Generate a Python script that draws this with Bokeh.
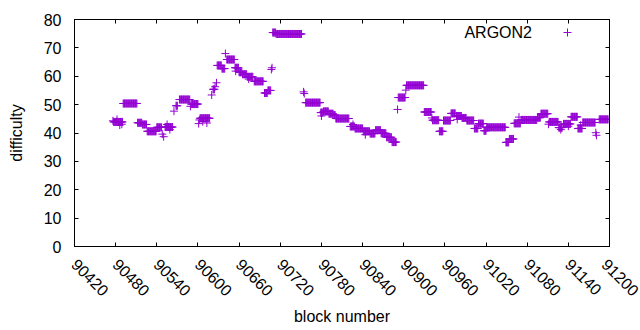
import math
from bokeh.plotting import figure
from bokeh.models import (LinearAxis, Range1d, FixedTicker, Label, Legend, LegendItem)
from bokeh.embed import file_html
from bokeh.resources import INLINE

run_start = [90476, 90477, 90482, 90486, 90489, 90491, 90512, 90519, 90526, 90540,
             90548, 90550, 90552, 90555, 90559, 90565, 90568, 90573, 90589, 90590,
             90601, 90602, 90603, 90607, 90613, 90620, 90622, 90625, 90627, 90628,
             90635, 90640, 90642, 90654, 90655, 90660, 90665, 90672, 90674, 90682,
             90697, 90702, 90707, 90708, 90709, 90714, 90754, 90755, 90757, 90779,
             90780, 90783, 90791, 90798, 90801, 90822, 90826, 90829, 90841, 90844,
             90851, 90859, 90867, 90875, 90883, 90891, 90892, 90903, 90904, 90930,
             90941, 90942, 90952, 90958, 90969, 90977, 90978, 90985, 90992, 91003,
             91009, 91017, 91021, 91049, 91054, 91061, 91068, 91071, 91095, 91100,
             91111, 91112, 91126, 91129, 91133, 91140, 91144, 91154, 91158, 91161,
             91180, 91181, 91185]
run_end = [90476, 90490, 90482, 90486, 90489, 90511, 90518, 90525, 90539, 90547,
           90548, 90550, 90563, 90555, 90559, 90565, 90570, 90588, 90589, 90600,
           90601, 90602, 90617, 90607, 90613, 90620, 90624, 90625, 90627, 90634,
           90639, 90640, 90653, 90659, 90655, 90664, 90671, 90680, 90674, 90695,
           90701, 90706, 90707, 90708, 90713, 90751, 90754, 90755, 90778, 90782,
           90780, 90790, 90797, 90800, 90820, 90828, 90826, 90840, 90850, 90844,
           90858, 90866, 90874, 90882, 90889, 90891, 90902, 90903, 90929, 90940,
           90941, 90951, 90957, 90968, 90975, 90984, 90978, 90991, 91002, 91008,
           91016, 91020, 91048, 91053, 91060, 91070, 91068, 91094, 91099, 91110,
           91111, 91125, 91131, 91129, 91143, 91140, 91153, 91160, 91158, 91179,
           91180, 91181, 91198]
run_value = [44.3, 43.9, 44.8, 42.8, 43.1, 50.4, 43.6, 43.0, 40.6, 42.0,
             39.6, 38.7, 42.1, 43.0, 41.2, 47.7, 49.6, 51.8, 49.4, 50.2,
             43.3, 44.6, 45.2, 44.0, 43.5, 53.4, 55.4, 56.3, 57.7, 63.8,
             62.7, 68.0, 65.9, 63.0, 61.8, 61.4, 60.7, 59.8, 59.0, 58.2,
             54.1, 55.0, 62.4, 63.0, 75.4, 74.9, 54.5, 53.9, 50.7, 47.2,
             46.0, 47.6, 46.8, 46.3, 45.1, 42.3, 43.0, 41.6, 40.6, 39.4,
             39.8, 41.0, 39.9, 38.5, 36.8, 48.3, 52.5, 55.1, 56.8, 47.4,
             45.3, 44.5, 40.6, 44.4, 46.9, 46.0, 44.8, 45.3, 44.4, 41.6,
             43.3, 40.8, 42.0, 36.7, 37.9, 43.4, 45.6, 44.6, 45.4, 46.8,
             43.1, 43.9, 41.9, 41.2, 43.2, 42.4, 45.7, 41.6, 42.8, 43.7,
             40.1, 39.2, 44.8]

x_ticks = [90420, 90480, 90540, 90600, 90660, 90720, 90780, 90840, 90900,
           90960, 91020, 91080, 91140, 91200]
y_ticks = [0, 10, 20, 30, 40, 50, 60, 70, 80]
series_name = "ARGON2"

blocks, diffs = [], []
for s, e, v in zip(run_start, run_end, run_value):
    for b in range(s, e + 1):
        blocks.append(b)
        diffs.append(v)

COLOR = "#9400D3"
FONT = "Liberation Sans"
FS = "16px"

p = figure(frame_width=535, frame_height=227,
           x_range=Range1d(x_ticks[0], x_ticks[-1]), y_range=Range1d(y_ticks[0], y_ticks[-1]),
           output_backend="svg", toolbar_location=None,
           min_border_left=74, min_border_right=31, min_border_top=19, min_border_bottom=84,
           x_axis_label="block number", y_axis_label="difficulty")
p.xgrid.visible = False
p.ygrid.visible = False
p.outline_line_color = "black"
p.background_fill_color = "white"
p.border_fill_color = "white"

for ax in (p.xaxis[0], p.yaxis[0]):
    ax.major_tick_in = 4
    ax.major_tick_out = 0
    ax.minor_tick_line_color = None
    ax.axis_line_color = "black"
    ax.major_tick_line_color = "black"
    ax.major_label_text_font = FONT
    ax.major_label_text_font_size = FS
    ax.major_label_text_color = "black"
    ax.axis_label_text_font = FONT
    ax.axis_label_text_font_size = FS
    ax.axis_label_text_font_style = "normal"
    ax.axis_label_text_color = "black"

p.xaxis[0].ticker = FixedTicker(ticks=x_ticks)
p.yaxis[0].ticker = FixedTicker(ticks=y_ticks)
p.xaxis[0].major_label_orientation = -math.pi / 4
p.xaxis[0].major_label_standoff = 15
p.xaxis[0].axis_label_standoff = 4
p.yaxis[0].major_label_standoff = 13
p.yaxis[0].axis_label_standoff = 16

# mirrored tick marks on top and right
top = LinearAxis(ticker=FixedTicker(ticks=x_ticks), major_tick_in=4, major_tick_out=0,
                 minor_tick_line_color=None, major_label_standoff=0,
                 major_label_overrides={t: "" for t in x_ticks})
right = LinearAxis(ticker=FixedTicker(ticks=y_ticks), major_tick_in=4, major_tick_out=0,
                   minor_tick_line_color=None, major_label_standoff=0,
                   major_label_overrides={t: "" for t in y_ticks})
p.add_layout(top, "above")
p.add_layout(right, "right")

r = p.scatter(blocks, diffs, marker="cross", size=8, line_color=COLOR, line_width=1)

# key: text followed by sample mark (gnuplot style)
p.add_layout(Label(x=91087, y=75.5, text=series_name, text_align="right",
                   text_baseline="middle", text_font=FONT, text_font_size=FS,
                   text_color="black"))
leg = Legend(items=[LegendItem(label=" ", renderers=[r])], location=(483, 204),
             glyph_width=20, glyph_height=20, padding=0, margin=0, spacing=0,
             label_text_font_size="1px", label_standoff=0, label_width=0, label_height=20,
             border_line_color=None, background_fill_alpha=0)
p.add_layout(leg)

open("out.html", "w").write(file_html(p, INLINE))
